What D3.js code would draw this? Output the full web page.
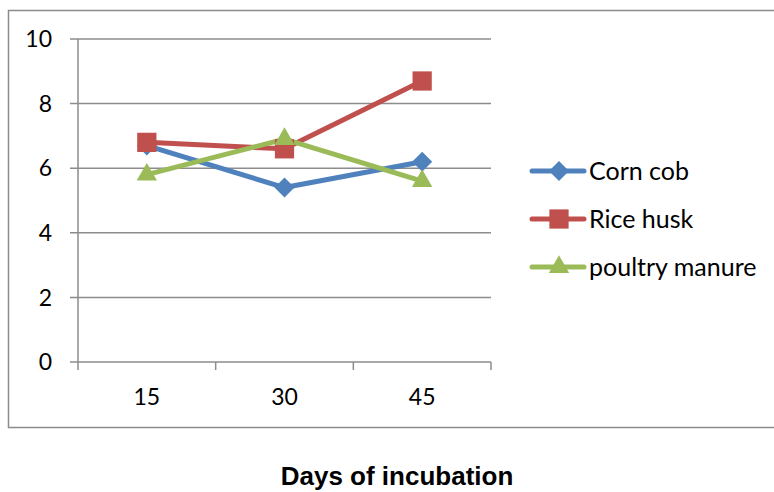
<!DOCTYPE html>
<html lang="en">
<head>
    <meta charset="UTF-8">
    <title>days of incubation</title>
    <script src="https://d3js.org/d3.v7.min.js"></script>
    <style>
        html, body {
            padding: 0;
            margin: 0;
            background-color: white;
        }
        svg {
            display: block;
        }
    </style>
</head>
<body>
<script>
    // данные с графика
    const days = ["15", "30", "45"];
    const cornCob = [6.7, 5.4, 6.2];
    const riceHusk = [6.8, 6.6, 8.7];
    const poultryManure = [5.8, 6.9, 5.6];
    const yTicks = [0, 2, 4, 6, 8, 10];

    // ромб = квадрат, повёрнутый на 45°
    const diamond = {
        draw(context, size) {
            const r = Math.sqrt(size / 2);
            context.moveTo(0, -r);
            context.lineTo(r, 0);
            context.lineTo(0, r);
            context.lineTo(-r, 0);
            context.closePath();
        }
    };

    const series = [
        {name: "Corn cob", values: cornCob, color: "#4F81BD", symbol: diamond, size: 200},
        {name: "Rice husk", values: riceHusk, color: "#C0504D", symbol: d3.symbolSquare, size: 370},
        {name: "poultry manure", values: poultryManure, color: "#9BBB59", symbol: d3.symbolTriangle, size: 180}
    ];

    const width = 774;
    const height = 492;
    const plot = {left: 78, right: 491, top: 39, bottom: 362};

    const svg = d3.select("body")
        .append("svg")
        .attr("width", width)
        .attr("height", height);

    // рамка
    svg.append("rect")
        .attr("x", 8.5)
        .attr("y", 10.5)
        .attr("width", 780)
        .attr("height", 417)
        .attr("fill", "none")
        .attr("stroke", "#8c8c8c")
        .attr("stroke-width", 1.5);

    const x = d3.scaleBand()
        .domain(days)
        .range([plot.left, plot.right]);

    const y = d3.scaleLinear()
        .domain([0, 10])
        .range([plot.bottom, plot.top]);

    // сетка
    svg.append("g")
        .selectAll("line")
        .data(yTicks)
        .join("line")
        .attr("x1", plot.left - 8)
        .attr("x2", plot.right)
        .attr("y1", d => y(d))
        .attr("y2", d => y(d))
        .attr("stroke", "#8c8c8c")
        .attr("stroke-width", 1.5);

    // ось y
    svg.append("line")
        .attr("x1", plot.left)
        .attr("x2", plot.left)
        .attr("y1", plot.top)
        .attr("y2", plot.bottom)
        .attr("stroke", "#8c8c8c")
        .attr("stroke-width", 1.5);

    svg.append("g")
        .selectAll("text")
        .data(yTicks)
        .join("text")
        .attr("x", 52)
        .attr("y", d => y(d))
        .attr("dy", "0.36em")
        .attr("text-anchor", "end")
        .style("font", "23px Lato, 'Open Sans', sans-serif")
        .attr("fill", "black")
        .text(d => d);

    // ось x
    const xTicks = [plot.left].concat(days.map(d => x(d) + x.bandwidth()));
    svg.append("g")
        .selectAll("line")
        .data(xTicks)
        .join("line")
        .attr("x1", d => d)
        .attr("x2", d => d)
        .attr("y1", plot.bottom)
        .attr("y2", plot.bottom + 8)
        .attr("stroke", "#8c8c8c")
        .attr("stroke-width", 1.5);

    svg.append("g")
        .selectAll("text")
        .data(days)
        .join("text")
        .attr("x", d => x(d) + x.bandwidth() / 2)
        .attr("y", 405)
        .attr("text-anchor", "middle")
        .style("font", "23px Lato, 'Open Sans', sans-serif")
        .attr("fill", "black")
        .text(d => d);

    // линии
    const line = d3.line()
        .x((d, i) => x(days[i]) + x.bandwidth() / 2)
        .y(d => y(d));

    for (let s of series) {
        svg.append("path")
            .datum(s.values)
            .attr("d", line)
            .attr("fill", "none")
            .attr("stroke", s.color)
            .attr("stroke-width", 5)
            .attr("stroke-linejoin", "round");
    }

    for (let s of series) {
        svg.append("g")
            .selectAll("path")
            .data(s.values)
            .join("path")
            .attr("transform", (d, i) => `translate(${x(days[i]) + x.bandwidth() / 2},${y(d)})`)
            .attr("d", d3.symbol().type(s.symbol).size(s.size))
            .attr("fill", s.color);
    }

    // легенда
    const legend = svg.append("g")
        .selectAll("g")
        .data(series)
        .join("g")
        .attr("transform", (d, i) => `translate(532,${171 + i * 48})`);

    legend.append("line")
        .attr("x1", 0)
        .attr("x2", 52)
        .attr("stroke", d => d.color)
        .attr("stroke-width", 5)
        .attr("stroke-linecap", "round");

    legend.append("path")
        .attr("transform", "translate(27,0)")
        .attr("d", d => d3.symbol().type(d.symbol).size(d.size)())
        .attr("fill", d => d.color);

    legend.append("text")
        .attr("x", 57)
        .attr("dy", "0.36em")
        .style("font", "25px Lato, 'Open Sans', sans-serif")
        .attr("fill", "black")
        .text(d => d.name);

    // подпись оси
    svg.append("text")
        .attr("x", 397)
        .attr("y", 485)
        .attr("text-anchor", "middle")
        .style("font", "bold 26px 'Liberation Sans', Arial, sans-serif")
        .attr("fill", "black")
        .text("Days of incubation");
</script>
</body>
</html>
